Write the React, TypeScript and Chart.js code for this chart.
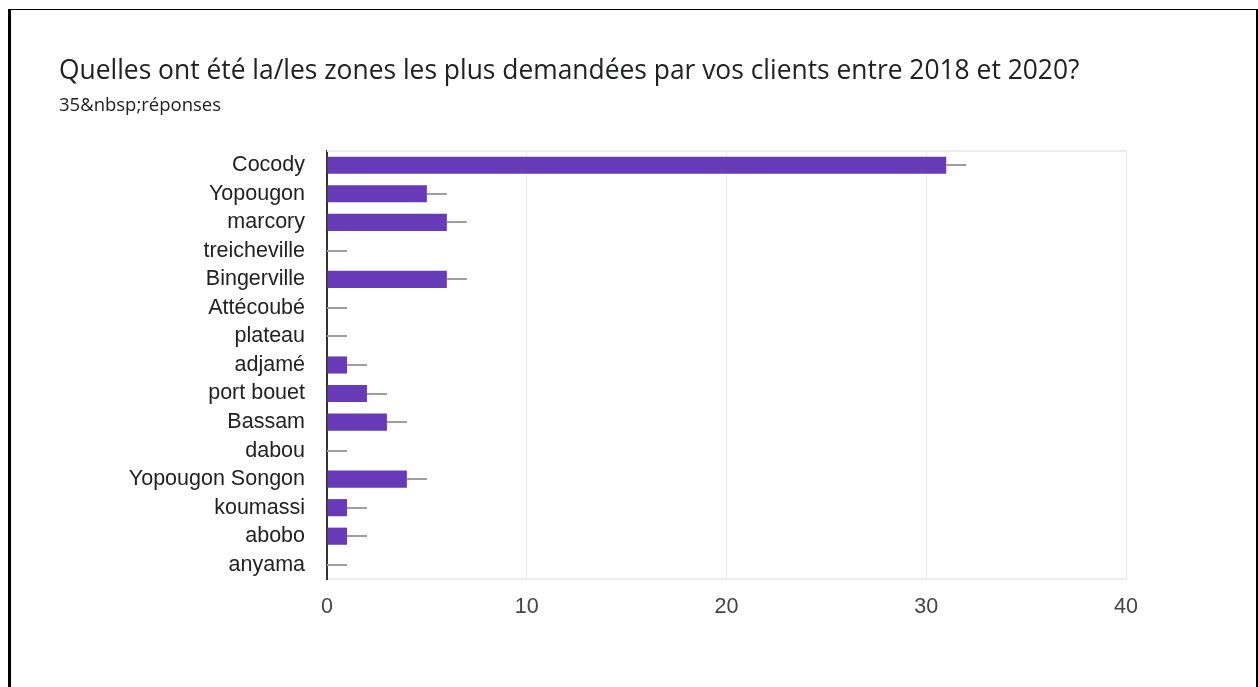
import React, { useEffect, useRef } from "react";
import { Chart, registerables } from "chart.js";

Chart.register(...registerables);

const TITLE = "Quelles ont été la/les zones les plus demandées par vos clients entre 2018 et 2020?";
const SUBTITLE = "35&nbsp;réponses";

const categories = [
  "Cocody",
  "Yopougon",
  "marcory",
  "treicheville",
  "Bingerville",
  "Attécoubé",
  "plateau",
  "adjamé",
  "port bouet",
  "Bassam",
  "dabou",
  "Yopougon Songon",
  "koumassi",
  "abobo",
  "anyama",
];

const counts = [31, 5, 6, 0, 6, 0, 0, 1, 2, 3, 0, 4, 1, 1, 0];

const xTicks = [0, 10, 20, 30, 40];

const LEADER_UNITS = 1;

const leaderPlugin = {
  id: "leaders",
  beforeDatasetsDraw(chart: any) {
    const { ctx, chartArea } = chart;
    ctx.save();
    ctx.strokeStyle = "#ececec";
    ctx.lineWidth = 2;
    ctx.beginPath();
    ctx.moveTo(chartArea.left, chartArea.top);
    ctx.lineTo(chartArea.right, chartArea.top);
    ctx.stroke();
    ctx.restore();
  },
  afterDatasetsDraw(chart: any) {
    const { ctx } = chart;
    const xs = chart.scales.x;
    const ys = chart.scales.y;
    ctx.save();
    ctx.strokeStyle = "#9e9e9e";
    ctx.lineWidth = 2;
    counts.forEach((v, i) => {
      const y = Math.round(ys.getPixelForValue(i));
      const x0 = xs.getPixelForValue(v);
      const x1 = xs.getPixelForValue(v + LEADER_UNITS);
      ctx.beginPath();
      ctx.moveTo(x0, y);
      ctx.lineTo(x1, y);
      ctx.stroke();
    });
    ctx.restore();
  },
};

const AXIS_FONT = "'Liberation Sans', Arial, sans-serif";
const HEAD_FONT = "'Open Sans', Roboto, sans-serif";

export default function App() {
  const ref = useRef<HTMLCanvasElement | null>(null);

  useEffect(() => {
    if (!ref.current) return;
    const chart = new Chart(ref.current, {
      type: "bar",
      data: {
        labels: categories,
        datasets: [
          {
            data: counts,
            backgroundColor: "#673ab7",
            borderWidth: 0,
            barPercentage: 0.6,
            categoryPercentage: 1,
          },
        ],
      },
      plugins: [leaderPlugin],
      options: {
        indexAxis: "y",
        animation: false,
        responsive: false,
        maintainAspectRatio: false,
        layout: { padding: { top: 151, right: 132, bottom: 0, left: 0 } },
        plugins: {
          legend: { display: false },
          tooltip: { enabled: false },
          title: { display: false },
        },
        scales: {
          x: {
            type: "linear",
            min: 0,
            max: 40,
            afterBuildTicks(scale: any) {
              scale.ticks = xTicks.map((v) => ({ value: v }));
            },
            afterFit(scale: any) {
              scale.height = 108;
            },
            grid: {
              color: "#ececec",
              lineWidth: 1,
              drawTicks: false,
            },
            border: { display: true, color: "#ececec", width: 2 },
            ticks: {
              padding: 15,
              color: "#444444",
              font: { family: AXIS_FONT, size: 21.5 },
            },
          },
          y: {
            type: "category",
            afterFit(scale: any) {
              scale.width = 327;
            },
            grid: { display: false, drawTicks: false },
            border: { display: true, color: "#333333", width: 2 },
            ticks: {
              autoSkip: false,
              padding: 22,
              color: "#222222",
              font: { family: AXIS_FONT, size: 21.5 },
            },
          },
        },
      },
    });
    return () => chart.destroy();
  }, []);

  return (
    <div style={{ position: "fixed", left: 0, top: 0, width: 1258, height: 687, background: "#fff", overflow: "hidden" }}>
      <div
        style={{
          position: "absolute",
          left: 8,
          top: 9,
          width: 1250,
          height: 700,
          boxSizing: "border-box",
          borderLeft: "3px solid #000",
          borderTop: "1px solid #000",
          borderRight: "2px solid #000",
        }}
      />
      <canvas ref={ref} width={1258} height={687} style={{ position: "absolute", left: 0, top: 0 }} />
      <div
        style={{
          position: "absolute",
          left: 59,
          top: 51,
          fontFamily: HEAD_FONT,
          fontSize: 26.4,
          color: "#202124",
          whiteSpace: "nowrap",
          lineHeight: "36px",
        }}
      >
        {TITLE}
      </div>
      <div
        style={{
          position: "absolute",
          left: 59,
          top: 91,
          fontFamily: HEAD_FONT,
          fontSize: 18.5,
          color: "#202124",
          whiteSpace: "nowrap",
          lineHeight: "26px",
        }}
      >
        {SUBTITLE}
      </div>
    </div>
  );
}
